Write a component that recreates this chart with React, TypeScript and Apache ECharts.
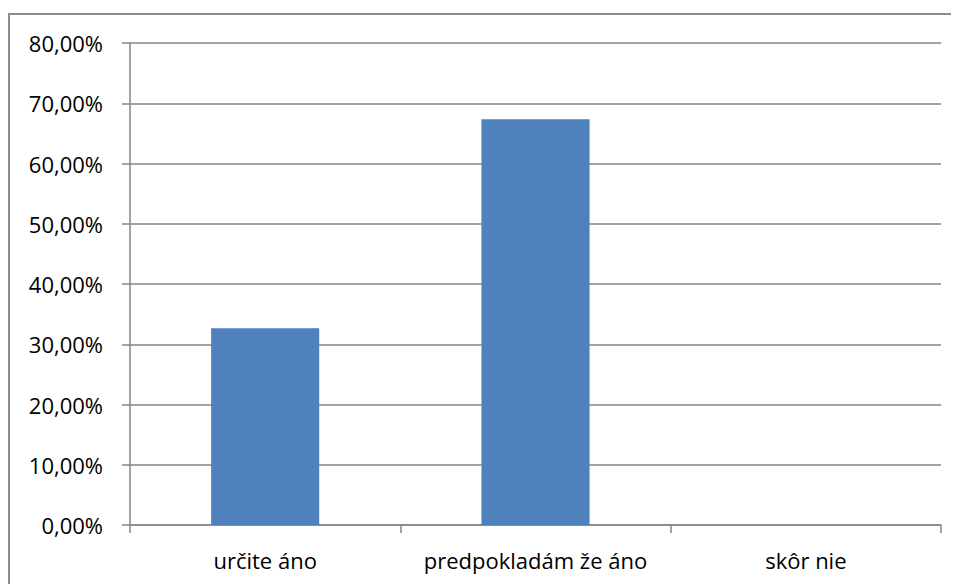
import React, { useEffect, useRef } from "react";
import * as echarts from "echarts";

const categories = ["určite áno", "predpokladám že áno", "skôr nie"];
const values = [32.65, 67.35, 0];
const yTicks = [0, 10, 20, 30, 40, 50, 60, 70, 80];

const FONT = "'Open Sans', 'Noto Sans', sans-serif";

export default function App() {
  const ref = useRef<HTMLDivElement>(null);
  useEffect(() => {
    if (!ref.current) return;
    document.documentElement.style.overflow = "hidden";
    document.body.style.overflow = "hidden";
    const chart = echarts.init(ref.current, null, { renderer: "svg" });
    chart.setOption({
      animation: false,
      backgroundColor: "#ffffff",
      graphic: [
        {
          type: "line",
          shape: { x1: 1, y1: 6, x2: 1, y2: 600 },
          style: { stroke: "#8c8c8c", lineWidth: 2 },
          silent: true,
        },
        {
          type: "line",
          shape: { x1: 0, y1: 6, x2: 960, y2: 6 },
          style: { stroke: "#8c8c8c", lineWidth: 2 },
          silent: true,
        },
      ],
      grid: { left: 122, right: 18, top: 35, bottom: 59, containLabel: false },
      xAxis: {
        type: "category",
        data: categories,
        axisLine: { show: true, lineStyle: { color: "#868686", width: 1.5 } },
        axisTick: { show: true, length: 8, alignWithLabel: false, lineStyle: { color: "#868686", width: 1.5 } },
        axisLabel: { color: "#000", fontFamily: FONT, fontSize: 22, margin: 24, interval: 0, hideOverlap: false },
        splitLine: { show: false },
      },
      yAxis: {
        type: "value",
        min: 0,
        max: 80,
        interval: 10,
        axisLine: { show: true, lineStyle: { color: "#868686", width: 1.5 } },
        axisTick: { show: true, length: 8, lineStyle: { color: "#868686", width: 1.5 } },
        axisLabel: {
          color: "#000",
          fontFamily: FONT,
          fontSize: 22,
          margin: 27,
          formatter: (v: number) => (yTicks.includes(v) ? v.toFixed(2).replace(".", ",") + "%" : ""),
        },
        splitLine: { show: true, lineStyle: { color: "#868686", width: 1.5 } },
      },
      series: [
        {
          type: "bar",
          data: values,
          barCategoryGap: "60%",
          itemStyle: { color: "#4F81BD" },
        },
      ],
    });
    return () => chart.dispose();
  }, []);
  return <div ref={ref} style={{ width: 951, height: 576 }} />;
}
